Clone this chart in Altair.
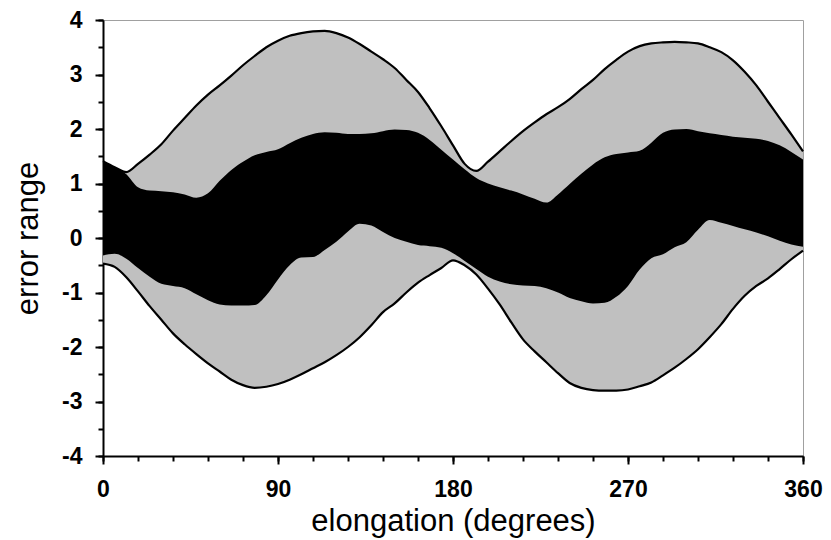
import altair as alt
import pandas as pd

elongation = list(range(0, 361, 6))

outer_upper = [1.41, 1.30, 1.21, 1.36, 1.53, 1.72, 1.97, 2.20, 2.43, 2.63, 2.80,
               2.98, 3.17, 3.34, 3.50, 3.62, 3.71, 3.76, 3.79, 3.80, 3.76,
               3.68, 3.56, 3.42, 3.28, 3.12, 2.90, 2.68, 2.38, 2.05, 1.70,
               1.36, 1.23, 1.40, 1.59, 1.78, 1.96, 2.12, 2.27, 2.40, 2.55,
               2.73, 2.90, 3.10, 3.27, 3.42, 3.52, 3.57, 3.59, 3.60, 3.59,
               3.57, 3.50, 3.41, 3.26, 3.05, 2.80, 2.50, 2.20, 1.90, 1.59]

outer_lower = [-0.47, -0.53, -0.72, -0.98, -1.25, -1.50, -1.75, -1.95, -2.13, -2.30, -2.45,
               -2.60, -2.70, -2.75, -2.73, -2.68, -2.60, -2.50, -2.39, -2.28, -2.15,
               -2.00, -1.82, -1.60, -1.36, -1.20, -1.00, -0.82, -0.68, -0.55, -0.41,
               -0.50, -0.67, -0.93, -1.22, -1.55, -1.86, -2.08, -2.28, -2.48, -2.66,
               -2.75, -2.79, -2.80, -2.80, -2.78, -2.72, -2.65, -2.52, -2.38, -2.22,
               -2.04, -1.82, -1.58, -1.30, -1.06, -0.88, -0.74, -0.57, -0.39, -0.23]

inner_upper = [1.40, 1.30, 1.17, 0.93, 0.87, 0.86, 0.84, 0.80, 0.74, 0.82, 1.05,
               1.25, 1.40, 1.52, 1.58, 1.63, 1.74, 1.84, 1.91, 1.94, 1.93,
               1.91, 1.91, 1.92, 1.96, 1.99, 1.98, 1.93, 1.80, 1.62, 1.44,
               1.26, 1.10, 1.00, 0.93, 0.87, 0.80, 0.72, 0.65, 0.80, 0.99,
               1.18, 1.35, 1.48, 1.54, 1.57, 1.60, 1.75, 1.93, 1.99, 2.00,
               1.96, 1.92, 1.89, 1.86, 1.84, 1.82, 1.78, 1.70, 1.58, 1.44]

inner_lower = [-0.32, -0.29, -0.38, -0.55, -0.71, -0.84, -0.88, -0.92, -1.03, -1.14, -1.22,
               -1.24, -1.24, -1.23, -1.05, -0.76, -0.50, -0.36, -0.35, -0.22, -0.07,
               0.12, 0.26, 0.23, 0.11, 0.00, -0.07, -0.13, -0.15, -0.18, -0.28,
               -0.42, -0.57, -0.71, -0.80, -0.85, -0.87, -0.88, -0.92, -1.00, -1.10,
               -1.16, -1.20, -1.19, -1.08, -0.88, -0.58, -0.37, -0.30, -0.17, -0.08,
               0.15, 0.33, 0.28, 0.22, 0.16, 0.10, 0.03, -0.05, -0.12, -0.16]

x_major = [0, 90, 180, 270, 360]
x_minor = list(range(0, 361, 18))
y_major = [-4, -3, -2, -1, 0, 1, 2, 3, 4]
y_minor = [-4 + 0.5 * i for i in range(17)]

df = pd.DataFrame({
    "elong": elongation,
    "ou": outer_upper,
    "ol": outer_lower,
    "iu": inner_upper,
    "il": inner_lower,
})

xscale = alt.Scale(domain=[0, 360], nice=False, zero=False)
yscale = alt.Scale(domain=[-4, 4], nice=False, zero=False)

FONT = "Liberation Sans"
XT = "elongation (degrees)"
YT = "error range"

xaxis = alt.Axis(
    values=x_major,
    orient="bottom",
    tickSize=8,
    labelFlush=False,
    labelOverlap=False,
    labelPadding=14,
    titleY=74,
    titleBaseline="alphabetic",
)
yaxis = alt.Axis(
    values=y_major,
    orient="left",
    tickSize=8,
    labelExpr="'' + datum.value",
    labelOverlap=False,
    labelFlush=False,
    labelPadding=13,
    titleX=-66,
    titleY=218,
    titleAngle=270,
    titleAlign="center",
    titleBaseline="alphabetic",
)
xaxis_minor = alt.Axis(values=x_minor, orient="bottom", tickSize=5, labels=False,
                       domain=False, title="")
yaxis_minor = alt.Axis(values=y_minor, orient="left", tickSize=5, labels=False,
                       domain=False, title="")

base = alt.Chart(df)

gray = base.mark_area(color="#c0c0c0", interpolate="monotone").encode(
    x=alt.X("elong:Q", scale=xscale, axis=xaxis, title=XT),
    y=alt.Y("ou:Q", scale=yscale, axis=yaxis, title=YT),
    y2="ol:Q",
)
black = base.mark_area(color="#000000", interpolate="monotone").encode(
    x=alt.X("elong:Q", title=XT),
    y=alt.Y("iu:Q", title=YT),
    y2="il:Q",
)
line_u = base.mark_line(color="#000000", strokeWidth=2.2, interpolate="monotone").encode(
    x=alt.X("elong:Q", title=XT),
    y=alt.Y("ou:Q", title=YT),
)
line_l = base.mark_line(color="#000000", strokeWidth=2.2, interpolate="monotone").encode(
    x=alt.X("elong:Q", title=XT),
    y=alt.Y("ol:Q", title=YT),
)

main = alt.layer(gray, black, line_u, line_l)

minor = base.mark_line(opacity=0).encode(
    x=alt.X("elong:Q", scale=xscale, axis=xaxis_minor),
    y=alt.Y("ou:Q", scale=yscale, axis=yaxis_minor),
)

chart = alt.layer(main, minor).resolve_scale(
    x="independent", y="independent"
).properties(
    width=700,
    height=436,
    autosize=alt.AutoSizeParams(type="none"),
    padding={"left": 95, "top": 12, "right": 20, "bottom": 84},
    background="white",
).configure_view(
    stroke="#a0a0a0", strokeWidth=1
).configure_axis(
    grid=False,
    domainColor="#000000",
    domainWidth=2,
    tickColor="#000000",
    tickWidth=2,
    labelColor="#000000",
    titleColor="#000000",
    labelFont=FONT,
    labelFontSize=23,
    labelFontWeight="bold",
    titleFont=FONT,
    titleFontSize=31,
    titleFontWeight="normal",
    zindex=1,
)

chart.save("out.html", embed_options={"renderer": "svg", "actions": False})
